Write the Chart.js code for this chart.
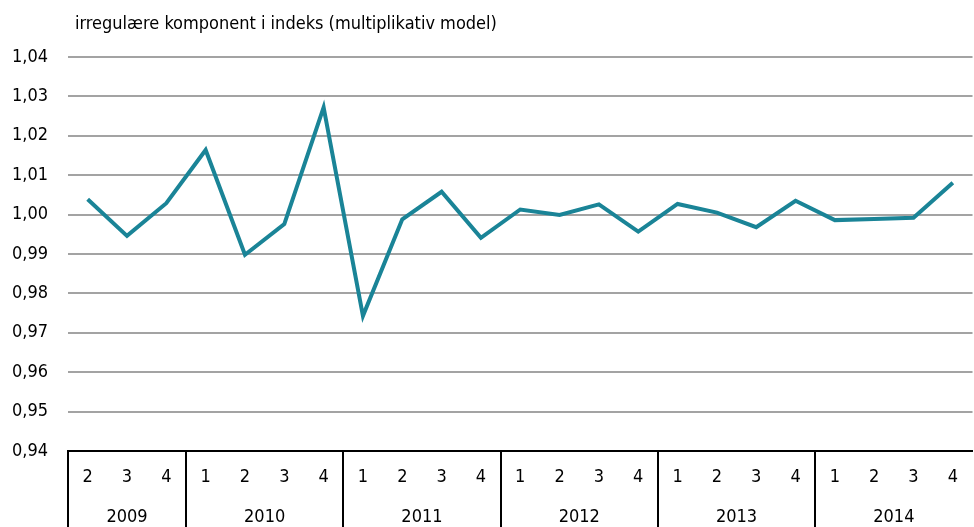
<!DOCTYPE html>
<html lang="da">
<head>
<meta charset="UTF-8">
<title>Irregulære komponent</title>
<script src="https://cdn.jsdelivr.net/npm/chart.js"></script>
<style>
  html, body { margin: 0; padding: 0; background: #fff; }
  #wrap { width: 974px; height: 527px; position: relative; }
</style>
</head>
<body>
<div id="wrap"><canvas id="graf"></canvas></div>
<script>
// kvartaler 2009K2 - 2014K4
const kvartaler = ['2','3','4','1','2','3','4','1','2','3','4','1','2','3','4','1','2','3','4','1','2','3','4'];
const aar = ['2009','2010','2011','2012','2013','2014'];
const aarStart = [0, 3, 7, 11, 15, 19];   // indeks i kvartaler hvor året starter
const irregulaer = [1.0039, 0.9946, 1.0029, 1.0164, 0.9898, 0.9976, 1.0272, 0.9743,
                    0.9988, 1.0058, 0.9941, 1.0013, 0.9999, 1.0026, 0.9957,
                    1.0027, 1.0005, 0.9968, 1.0035, 0.9986, 0.9989, 0.9992, 1.0081];
const titel = 'irregulære komponent i indeks (multiplikativ model)';

const FONT = "'Liberation Sans Narrow', 'DejaVu Sans Condensed', 'Roboto Condensed', sans-serif";

// tegner titel, aarstal og skillelinjer under x-aksen
const aarPlugin = {
  id: 'aarPlugin',
  afterDraw(chart) {
    const ctx = chart.ctx;
    const x = chart.scales.x;
    const area = chart.chartArea;
    const halv = (x.getPixelForValue(1) - x.getPixelForValue(0)) / 2;
    ctx.save();
    ctx.fillStyle = '#000';
    ctx.font = '18px ' + FONT;
    ctx.textBaseline = 'middle';
    ctx.textAlign = 'left';
    ctx.fillText(titel, 75, 24);

    ctx.strokeStyle = '#000';
    ctx.lineWidth = 2;
    ctx.textAlign = 'center';
    for (let i = 0; i < aarStart.length; i++) {
      const s = aarStart[i];
      const e = (i + 1 < aarStart.length ? aarStart[i + 1] : kvartaler.length) - 1;
      const xs = x.getPixelForValue(s) - halv;
      ctx.beginPath();
      ctx.moveTo(Math.round(xs), area.bottom);
      ctx.lineTo(Math.round(xs), chart.height);
      ctx.stroke();
      const midt = (x.getPixelForValue(s) + x.getPixelForValue(e)) / 2;
      ctx.fillText(aar[i], midt, 517);
    }
    ctx.restore();
  }
};

new Chart(document.getElementById('graf'), {
  type: 'line',
  data: {
    labels: kvartaler,
    datasets: [{
      data: irregulaer,
      borderColor: '#1a8497',
      borderWidth: 4,
      pointRadius: 0,
      tension: 0,
      fill: false
    }]
  },
  options: {
    responsive: true,
    maintainAspectRatio: false,
    animation: false,
    layout: { padding: { top: 57, right: 0, left: 0, bottom: 0 } },
    plugins: {
      legend: { display: false },
      tooltip: { enabled: false }
    },
    scales: {
      x: {
        offset: true,
        grid: { display: false, drawTicks: false },
        border: { display: true, color: '#000', width: 2 },
        ticks: {
          color: '#000',
          font: { size: 18, family: FONT },
          padding: 16,
          maxRotation: 0,
          autoSkip: false
        },
        afterFit(scale) { scale.height = 76; }
      },
      y: {
        min: 0.94,
        max: 1.04,
        grid: { color: '#a3a3a3', lineWidth: 2, drawTicks: false },
        border: { display: false },
        ticks: {
          stepSize: 0.01,
          color: '#000',
          padding: 20,
          font: { size: 18, family: FONT },
          callback: v => v.toFixed(2).replace('.', ',')
        },
        afterFit(scale) { scale.width = 68; }
      }
    }
  },
  plugins: [aarPlugin]
});
</script>
</body>
</html>
